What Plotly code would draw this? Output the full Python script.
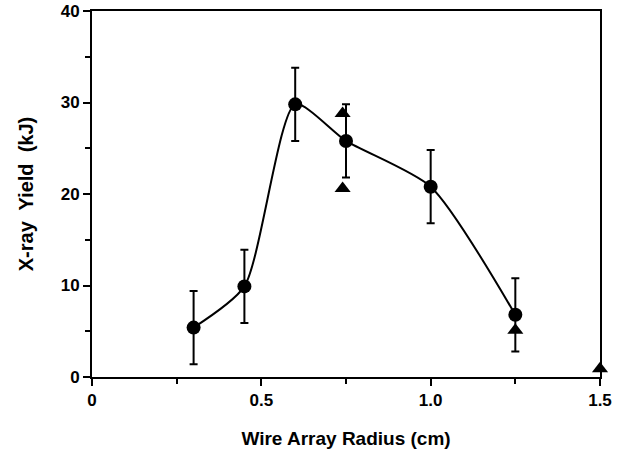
import plotly.graph_objects as go

# Data
radius = [0.30, 0.45, 0.60, 0.75, 1.00, 1.25]
yield_kj = [5.4, 9.9, 29.8, 25.8, 20.8, 6.8]
yield_err = [4.0, 4.0, 4.0, 4.0, 4.0, 4.0]

tri_radius = [0.74, 0.74, 1.25, 1.50]
tri_yield = [28.8, 20.6, 5.1, 0.9]

x_tickvals = [0, 0.5, 1.0, 1.5]
x_ticktext = ["0", "0.5", "1.0", "1.5"]
x_minor = [0.25, 0.75, 1.25]
y_tickvals = [0, 10, 20, 30, 40]
y_ticktext = ["0", "10", "20", "30", "40"]
y_minor = [5, 15, 25, 35]

fig = go.Figure()

# smooth curve through the circle points
fig.add_trace(go.Scatter(
    x=radius, y=yield_kj, mode="lines",
    line=dict(color="black", width=2, shape="spline", smoothing=0.65),
    hoverinfo="skip", showlegend=False,
))

# circles with error bars
fig.add_trace(go.Scatter(
    x=radius, y=yield_kj, mode="markers",
    marker=dict(symbol="circle", size=14, color="black"),
    error_y=dict(type="data", array=yield_err, visible=True,
                 color="black", thickness=2, width=4),
    showlegend=False, cliponaxis=False,
))

# triangles
fig.add_trace(go.Scatter(
    x=tri_radius, y=tri_yield, mode="markers",
    marker=dict(symbol="triangle-up", size=14, color="black"),
    showlegend=False, cliponaxis=False,
))

font_family = "Liberation Sans, Arial, sans-serif"

fig.update_layout(
    width=620, height=454,
    margin=dict(l=92, r=20, t=11, b=77),
    paper_bgcolor="white", plot_bgcolor="white",
    font=dict(family=font_family, size=17, color="black"),
    xaxis=dict(
        range=[0, 1.5], showgrid=False, zeroline=False, automargin=False,
        showline=True, linecolor="black", linewidth=2, mirror=True,
        ticks="outside", ticklen=7, tickwidth=2, tickcolor="black",
        tickmode="array", tickvals=x_tickvals, ticktext=x_ticktext,
        tickfont=dict(family=font_family, size=17, color="black", weight="bold"),
        minor=dict(ticks="outside", ticklen=5, tickwidth=2, tickcolor="black",
                   tickmode="array", tickvals=x_minor),
        title=dict(text="Wire Array Radius (cm)", standoff=22,
                   font=dict(family=font_family, size=19, color="black", weight="bold")),
    ),
    yaxis=dict(
        range=[0, 40], showgrid=False, zeroline=False, automargin=False,
        showline=True, linecolor="black", linewidth=2, mirror=True,
        ticks="outside", ticklen=7, tickwidth=2, tickcolor="black",
        tickmode="array", tickvals=y_tickvals, ticktext=y_ticktext,
        tickfont=dict(family=font_family, size=17, color="black", weight="bold"),
        minor=dict(ticks="outside", ticklen=5, tickwidth=2, tickcolor="black",
                   tickmode="array", tickvals=y_minor),
        title=dict(text="X-ray  Yield  (kJ)", standoff=22,
                   font=dict(family=font_family, size=20, color="black", weight="bold")),
    ),
)

fig.write_html("out.html")
